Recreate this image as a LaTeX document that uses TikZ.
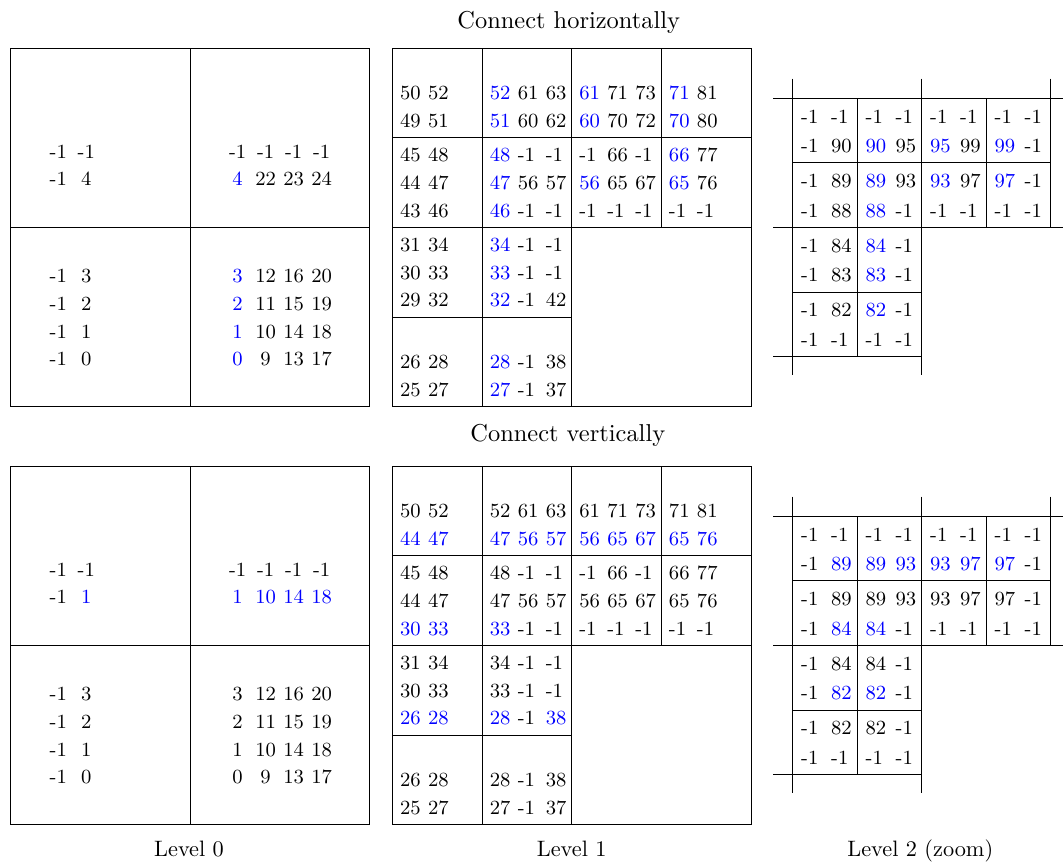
\documentclass[tikz,border=0pt]{standalone}
\newcounter{rowno}
\tikzset{
  num/.style={inner sep=0pt, font=\small},
  numc/.style={num, anchor=base},
  numl/.style={num, anchor=base west},
  gl/.style={line width=0.4pt},
  ttl/.style={inner sep=0pt, anchor=base, font=\fontsize{10.95}{13}\selectfont},
  lab/.style={inner sep=0pt, anchor=base},
}
\newcommand\B[1]{\textcolor{blue}{#1}}
% style, x, y, step, list
\newcommand\numrow[5]{%
  \stepcounter{rowno}%
  \foreach \v [count=\i from 0] in {#5}{\node[#1] (r\arabic{rowno}-\i) at ({#2+#4*\i},{#3}) {\v};}}
% level 1: r c k list
\newcommand\lone[4]{\numrow{numl}{399.7+89.6*#2}{48.3+89.6*#1+23.8+27.8*#3}{28}{#4}}
% level 2: R C k list
\newcommand\ltwo[4]{\numrow{numl}{800.7+64.5*#2}{98.3+64.6*#1+24.7+29.5*#3}{30}{#4}}
% level 0: x y list
\newcommand\lzero[3]{\numrow{numc}{#1}{#2}{28}{#3}}
\newcommand\frames{%
  \draw[gl] (10.7,48) rectangle (369.3,406.7);
  \draw[gl] (190,48) -- (190,406.7);
  \draw[gl] (10.7,227.3) -- (369.3,227.3);
  \draw[gl] (392.7,48.3) rectangle (751,406.7);
  \draw[gl] (482,48.3) -- (482,406.7);
  \draw[gl] (571.7,48.3) -- (571.7,406.7);
  \draw[gl] (661.7,48.3) -- (661.7,227.3);
  \draw[gl] (392.7,137.7) -- (751,137.7);
  \draw[gl] (392.7,227.3) -- (751,227.3);
  \draw[gl] (392.7,317.3) -- (571.7,317.3);
  \draw[gl] (792.7,78.5) -- (792.7,375);
  \draw[gl] (921.7,78.5) -- (921.7,375);
  \draw[gl] (1050.7,78.5) -- (1050.7,227.7);
  \draw[gl] (773,98.3) -- (1063,98.3);
  \draw[gl] (773,227.7) -- (1063,227.7);
  \draw[gl] (773,356.7) -- (921.7,356.7);
  \draw[gl] (857.2,98.3) -- (857.2,356.7);
  \draw[gl] (986.2,98.3) -- (986.2,227.7);
  \draw[gl] (792.7,162.9) -- (1050.7,162.9);
  \draw[gl] (792.7,292.1) -- (921.7,292.1);
}
\begin{document}
\begin{tikzpicture}[x=0.4484pt,y=-0.4484pt]
\useasboundingbox (0,0) rectangle (1063,863);
\node[ttl] (t1) at (568.7,28) {Connect horizontally};
\node[ttl] (t2) at (567.8,441.5) {Connect vertically};
\node[lab] (l0) at (189,856.7) {Level 0};
\node[lab] (l1) at (571.7,856.7) {Level 1};
\node[lab] (l2) at (920.3,856.7) {Level 2 (zoom)};

% ---------------- top panel ----------------
\begin{scope}
\frames
\lzero{58.3}{158.2}{-1,-1}
\lzero{58.3}{185.9}{-1,4}
\lzero{237.6}{158.2}{-1,-1,-1,-1}
\lzero{237.6}{185.9}{\B{4},22,23,24}
\lzero{58.3}{282.5}{-1,3}
\lzero{58.3}{310.25}{-1,2}
\lzero{58.3}{338}{-1,1}
\lzero{58.3}{365.75}{-1,0}
\lzero{237.6}{282.5}{\B{3},12,16,20}
\lzero{237.6}{310.25}{\B{2},11,15,19}
\lzero{237.6}{338}{\B{1},10,14,18}
\lzero{237.6}{365.75}{\B{0},9,13,17}

\lone{0}{0}{1}{50,52}
\lone{0}{0}{2}{49,51}
\lone{0}{1}{1}{\B{52},61,63}
\lone{0}{1}{2}{\B{51},60,62}
\lone{0}{2}{1}{\B{61},71,73}
\lone{0}{2}{2}{\B{60},70,72}
\lone{0}{3}{1}{\B{71},81}
\lone{0}{3}{2}{\B{70},80}
\lone{1}{0}{0}{45,48}
\lone{1}{0}{1}{44,47}
\lone{1}{0}{2}{43,46}
\lone{1}{1}{0}{\B{48},-1,-1}
\lone{1}{1}{1}{\B{47},56,57}
\lone{1}{1}{2}{\B{46},-1,-1}
\lone{1}{2}{0}{-1,66,-1}
\lone{1}{2}{1}{\B{56},65,67}
\lone{1}{2}{2}{-1,-1,-1}
\lone{1}{3}{0}{\B{66},77}
\lone{1}{3}{1}{\B{65},76}
\lone{1}{3}{2}{-1,-1}
\lone{2}{0}{0}{31,34}
\lone{2}{0}{1}{30,33}
\lone{2}{0}{2}{29,32}
\lone{2}{1}{0}{\B{34},-1,-1}
\lone{2}{1}{1}{\B{33},-1,-1}
\lone{2}{1}{2}{\B{32},-1,42}
\lone{3}{0}{1}{26,28}
\lone{3}{0}{2}{25,27}
\lone{3}{1}{1}{\B{28},-1,38}
\lone{3}{1}{2}{\B{27},-1,37}

\ltwo{0}{0}{0}{-1,-1}
\ltwo{0}{0}{1}{-1,90}
\ltwo{0}{1}{0}{-1,-1}
\ltwo{0}{1}{1}{\B{90},95}
\ltwo{0}{2}{0}{-1,-1}
\ltwo{0}{2}{1}{\B{95},99}
\ltwo{0}{3}{0}{-1,-1}
\ltwo{0}{3}{1}{\B{99},-1}
\ltwo{1}{0}{0}{-1,89}
\ltwo{1}{0}{1}{-1,88}
\ltwo{1}{1}{0}{\B{89},93}
\ltwo{1}{1}{1}{\B{88},-1}
\ltwo{1}{2}{0}{\B{93},97}
\ltwo{1}{2}{1}{-1,-1}
\ltwo{1}{3}{0}{\B{97},-1}
\ltwo{1}{3}{1}{-1,-1}
\ltwo{2}{0}{0}{-1,84}
\ltwo{2}{0}{1}{-1,83}
\ltwo{2}{1}{0}{\B{84},-1}
\ltwo{2}{1}{1}{\B{83},-1}
\ltwo{3}{0}{0}{-1,82}
\ltwo{3}{0}{1}{-1,-1}
\ltwo{3}{1}{0}{\B{82},-1}
\ltwo{3}{1}{1}{-1,-1}
\end{scope}

% ---------------- bottom panel ----------------
\begin{scope}[shift={(0,418)}]
\frames
\lzero{58.3}{158.2}{-1,-1}
\lzero{58.3}{185.9}{-1,\B{1}}
\lzero{237.6}{158.2}{-1,-1,-1,-1}
\lzero{237.6}{185.9}{\B{1},\B{10},\B{14},\B{18}}
\lzero{58.3}{282.5}{-1,3}
\lzero{58.3}{310.25}{-1,2}
\lzero{58.3}{338}{-1,1}
\lzero{58.3}{365.75}{-1,0}
\lzero{237.6}{282.5}{3,12,16,20}
\lzero{237.6}{310.25}{2,11,15,19}
\lzero{237.6}{338}{1,10,14,18}
\lzero{237.6}{365.75}{0,9,13,17}

\lone{0}{0}{1}{50,52}
\lone{0}{0}{2}{\B{44},\B{47}}
\lone{0}{1}{1}{52,61,63}
\lone{0}{1}{2}{\B{47},\B{56},\B{57}}
\lone{0}{2}{1}{61,71,73}
\lone{0}{2}{2}{\B{56},\B{65},\B{67}}
\lone{0}{3}{1}{71,81}
\lone{0}{3}{2}{\B{65},\B{76}}
\lone{1}{0}{0}{45,48}
\lone{1}{0}{1}{44,47}
\lone{1}{0}{2}{\B{30},\B{33}}
\lone{1}{1}{0}{48,-1,-1}
\lone{1}{1}{1}{47,56,57}
\lone{1}{1}{2}{\B{33},-1,-1}
\lone{1}{2}{0}{-1,66,-1}
\lone{1}{2}{1}{56,65,67}
\lone{1}{2}{2}{-1,-1,-1}
\lone{1}{3}{0}{66,77}
\lone{1}{3}{1}{65,76}
\lone{1}{3}{2}{-1,-1}
\lone{2}{0}{0}{31,34}
\lone{2}{0}{1}{30,33}
\lone{2}{0}{2}{\B{26},\B{28}}
\lone{2}{1}{0}{34,-1,-1}
\lone{2}{1}{1}{33,-1,-1}
\lone{2}{1}{2}{\B{28},-1,\B{38}}
\lone{3}{0}{1}{26,28}
\lone{3}{0}{2}{25,27}
\lone{3}{1}{1}{28,-1,38}
\lone{3}{1}{2}{27,-1,37}

\ltwo{0}{0}{0}{-1,-1}
\ltwo{0}{0}{1}{-1,\B{89}}
\ltwo{0}{1}{0}{-1,-1}
\ltwo{0}{1}{1}{\B{89},\B{93}}
\ltwo{0}{2}{0}{-1,-1}
\ltwo{0}{2}{1}{\B{93},\B{97}}
\ltwo{0}{3}{0}{-1,-1}
\ltwo{0}{3}{1}{\B{97},-1}
\ltwo{1}{0}{0}{-1,89}
\ltwo{1}{0}{1}{-1,\B{84}}
\ltwo{1}{1}{0}{89,93}
\ltwo{1}{1}{1}{\B{84},-1}
\ltwo{1}{2}{0}{93,97}
\ltwo{1}{2}{1}{-1,-1}
\ltwo{1}{3}{0}{97,-1}
\ltwo{1}{3}{1}{-1,-1}
\ltwo{2}{0}{0}{-1,84}
\ltwo{2}{0}{1}{-1,\B{82}}
\ltwo{2}{1}{0}{84,-1}
\ltwo{2}{1}{1}{\B{82},-1}
\ltwo{3}{0}{0}{-1,82}
\ltwo{3}{0}{1}{-1,-1}
\ltwo{3}{1}{0}{82,-1}
\ltwo{3}{1}{1}{-1,-1}
\end{scope}
\end{tikzpicture}
\end{document}
